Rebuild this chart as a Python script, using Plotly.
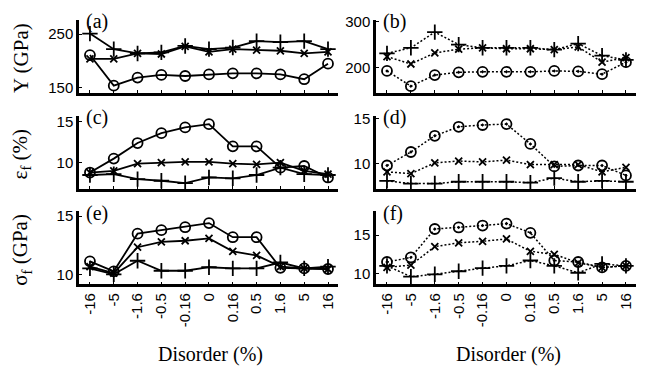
import plotly.graph_objects as go

W, H = 649, 370

categories = ["-16", "-5", "-1.6", "-0.5", "-0.16", "0", "0.16", "0.5", "1.6", "5", "16"]

# Young's modulus Y (GPa)
Y_a_circle = [211, 154, 169, 174, 172, 175, 177, 177, 175, 166, 195]
Y_a_x = [204, 204, 214, 213, 227, 217, 222, 220, 219, 214, 217]
Y_a_plus = [251, 222, 214, 216, 228, 222, 225, 237, 235, 237, 222]
Y_b_circle = [193, 160, 184, 190, 191, 191, 191, 193, 192, 186, 212]
Y_b_x = [224, 208, 232, 240, 243, 241, 241, 239, 245, 212, 222]
Y_b_plus = [231, 243, 277, 250, 243, 243, 243, 239, 252, 226, 217]

# failure strain (%)
eps_c_circle = [8.8, 10.5, 12.4, 13.6, 14.3, 14.7, 12.0, 12.0, 9.4, 9.6, 8.2]
eps_c_x = [8.8, 9.0, 9.9, 10.0, 10.1, 10.1, 9.9, 9.8, 10.0, 9.0, 8.6]
eps_c_plus = [8.5, 8.6, 8.0, 7.8, 7.5, 8.2, 8.1, 8.5, 9.4, 8.6, 8.5]
eps_d_circle = [9.8, 11.3, 13.1, 14.1, 14.3, 14.4, 12.2, 9.7, 9.8, 9.8, 8.7]
eps_d_x = [9.1, 8.9, 10.1, 10.3, 10.2, 10.4, 9.9, 9.9, 9.9, 9.1, 9.6]
eps_d_plus = [8.1, 7.8, 7.8, 8.0, 8.0, 8.0, 7.9, 8.4, 8.0, 8.1, 8.0]

# failure stress (GPa)
sig_e_circle = [11.15, 10.3, 13.5, 13.8, 14.05, 14.4, 13.2, 13.2, 10.6, 10.55, 10.5]
sig_e_x = [10.7, 10.15, 12.35, 12.8, 12.9, 13.1, 12.0, 11.65, 10.7, 10.55, 10.5]
sig_e_plus = [10.55, 10.05, 11.2, 10.35, 10.35, 10.65, 10.55, 10.55, 11.05, 10.55, 10.7]
sig_f_circle = [11.5, 12.1, 15.8, 16.0, 16.25, 16.5, 15.3, 11.7, 11.5, 10.8, 11.0]
sig_f_x = [10.8, 11.1, 13.5, 14.0, 14.2, 14.5, 12.9, 12.5, 11.4, 10.8, 11.0]
sig_f_plus = [11.0, 9.6, 9.9, 10.3, 10.7, 11.0, 11.7, 11.0, 10.1, 11.25, 11.0]

panel_labels = ["(a)", "(b)", "(c)", "(d)", "(e)", "(f)"]
row_titles = ["Y (GPa)", "ε<sub>f</sub> (%)", "σ<sub>f</sub> (GPa)"]
x_title = "Disorder (%)"

panels = [
    (Y_a_circle, Y_a_x, Y_a_plus, [141, 277], [150, 250]),
    (Y_b_circle, Y_b_x, Y_b_plus, [146, 304], [200, 300]),
    (eps_c_circle, eps_c_x, eps_c_plus, [6.8, 15.7], [10, 15]),
    (eps_d_circle, eps_d_x, eps_d_plus, [7.2, 15.3], [10, 15]),
    (sig_e_circle, sig_e_x, sig_e_plus, [9.2, 15.4], [10, 15]),
    (sig_f_circle, sig_f_x, sig_f_plus, [8.6, 18.1], [10, 15]),
]

# pixel layout
col_px = [(79, 338), (376, 636)]
row_px = [(13, 88), (112, 187), (210, 285)]

def px_x(p):
    return p / W

def px_y(p):
    return 1 - p / H

fig = go.Figure()
layout = dict(
    width=W, height=H, margin=dict(l=0, r=0, t=0, b=0),
    paper_bgcolor="white", plot_bgcolor="white", showlegend=False,
    font=dict(family="Liberation Sans, Arial", size=15, color="black"),
)
annotations = []

serif = "Liberation Serif, Times New Roman, serif"
sans = "Liberation Sans, Arial, sans-serif"

for i, (circ, xs, plus, yr, yt) in enumerate(panels):
    r, c = divmod(i, 2)
    n = i + 1
    xa = "x" if n == 1 else f"x{n}"
    ya = "y" if n == 1 else f"y{n}"
    dash = "solid" if c == 0 else "2px,2px"
    lw = 1.8 if c == 0 else 1.5
    circ_sym = "circle-open" if c == 0 else "circle-open-dot"
    for vals, sym, sz in ((circ, circ_sym, 10), (xs, "x-thin-open", 7), (plus, "cross-thin-open", 11)):
        fig.add_trace(go.Scatter(
            x=categories, y=vals, xaxis=xa, yaxis=ya, mode="lines+markers",
            line=dict(color="black", width=lw, dash=dash),
            marker=dict(symbol=sym, size=sz, color="black",
                        line=dict(color="black", width=1.8)),
        ))
    x0, x1 = col_px[c]
    y0, y1 = row_px[r]
    layout["xaxis" if n == 1 else f"xaxis{n}"] = dict(
        domain=[px_x(x0), px_x(x1)], anchor=ya, type="category",
        categoryorder="array", categoryarray=categories,
        range=[-0.46, 10.42], showgrid=False, zeroline=False,
        showline=True, linecolor="black", linewidth=2.5,
        ticks="inside", ticklen=3, tickwidth=1.2, tickcolor="black",
        showticklabels=(r == 2), tickangle=-90,
        tickfont=dict(family=sans, size=15, color="black"),
    )
    layout["yaxis" if n == 1 else f"yaxis{n}"] = dict(
        domain=[px_y(y1), px_y(y0)], anchor=xa, range=yr,
        tickvals=yt, ticktext=[str(v) for v in yt],
        showgrid=False, zeroline=False,
        showline=True, linecolor="black", linewidth=2.5,
        ticks="inside", ticklen=3, tickwidth=1.2, tickcolor="black",
        tickfont=dict(family=sans, size=15, color="black"),
    )
    annotations.append(dict(
        text=panel_labels[i], xref="paper", yref="paper",
        x=px_x(x0 + 5), y=px_y(y0 + 2), xanchor="left", yanchor="middle",
        showarrow=False, font=dict(family=serif, size=20, color="black"),
    ))

for r, t in enumerate(row_titles):
    y0, y1 = row_px[r]
    annotations.append(dict(
        text=t, xref="paper", yref="paper", x=px_x(21), y=px_y((y0 + y1) / 2 + 2),
        xanchor="center", yanchor="middle", textangle=-90, showarrow=False,
        font=dict(family=serif, size=21, color="black"),
    ))

for c in range(2):
    x0, x1 = col_px[c]
    annotations.append(dict(
        text=x_title, xref="paper", yref="paper", x=px_x((x0 + x1) / 2 + 2), y=px_y(357),
        xanchor="center", yanchor="middle", showarrow=False,
        font=dict(family=serif, size=20, color="black"),
    ))

layout["annotations"] = annotations
fig.update_layout(**layout)
fig.write_html("out.html")
